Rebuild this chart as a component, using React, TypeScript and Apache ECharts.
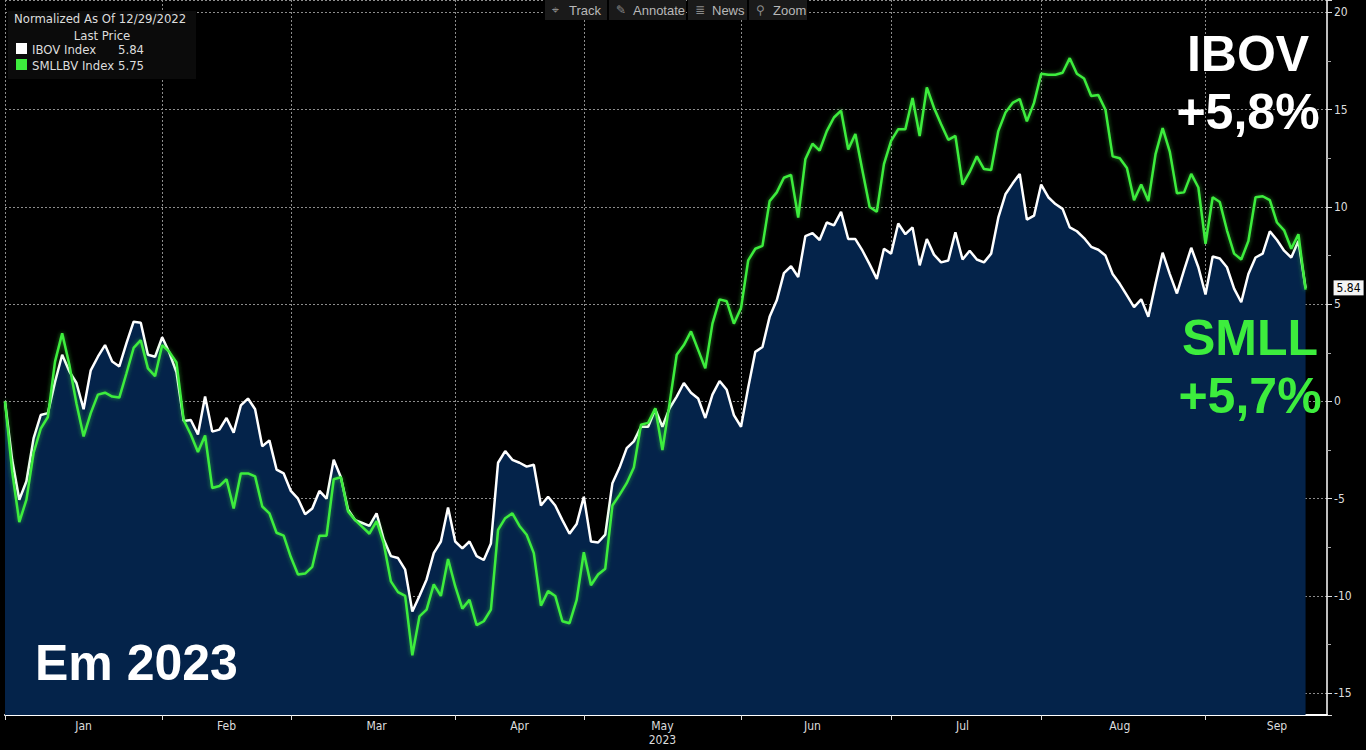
import React, { useEffect, useRef } from "react";
import * as echarts from "echarts";

// Trading days (B3) per month
const dec2022 = [29];
const jan2023 = [2, 3, 4, 5, 6, 9, 10, 11, 12, 13, 16, 17, 18, 19, 20, 23, 24, 25, 26, 27, 30, 31];
const feb2023 = [1, 2, 3, 6, 7, 8, 9, 10, 13, 14, 15, 16, 17, 22, 23, 24, 27, 28];
const mar2023 = [1, 2, 3, 6, 7, 8, 9, 10, 13, 14, 15, 16, 17, 20, 21, 22, 23, 24, 27, 28, 29, 30, 31];
const apr2023 = [3, 4, 5, 6, 10, 11, 12, 13, 14, 17, 18, 19, 20, 24, 25, 26, 27, 28];
const may2023 = [2, 3, 4, 5, 8, 9, 10, 11, 12, 15, 16, 17, 18, 19, 22, 23, 24, 25, 26, 29, 30, 31];
const jun2023 = [1, 2, 5, 6, 7, 9, 12, 13, 14, 15, 16, 19, 20, 21, 22, 23, 26, 27, 28, 29, 30];
const jul2023 = [3, 4, 5, 6, 7, 10, 11, 12, 13, 14, 17, 18, 19, 20, 21, 24, 25, 26, 27, 28, 31];
const aug2023 = [1, 2, 3, 4, 7, 8, 9, 10, 11, 14, 15, 16, 17, 18, 21, 22, 23, 24, 25, 28, 29, 30, 31];
const sep2023 = [1, 4, 5, 6, 8, 11, 12, 13, 14, 15, 18, 19, 20, 21, 22, 25, 26];

// IBOV normalized (% change since 12/29/2022)
const ibov = [
  0, -3.0, -5.05, -4.1, -1.9, -0.7, -0.6, 1.0, 2.4, 1.55,
  0.95, -0.4, 1.6, 2.3, 2.9, 2.05, 1.8, 3.0, 4.1, 4.05,
  2.4, 2.3, 3.3, 2.5, 1.5, -1.0, -0.95, -1.7, 0.25, -1.55,
  -1.45, -0.85, -1.6, -0.2, 0.15, -0.4, -2.3, -2.0, -3.5, -3.7,
  -4.6, -5.0, -5.8, -5.5, -4.6, -5.0, -3.0, -3.9, -5.55, -6.1,
  -6.25, -6.4, -5.75, -7.1, -7.95, -8.05, -8.65, -10.8, -10.0, -9.15,
  -7.8, -7.2, -5.45, -7.2, -7.55, -7.2, -7.95, -8.15, -7.3, -3.15,
  -2.55, -3.0, -3.15, -3.35, -3.25, -5.35, -4.9, -5.35, -6.1, -6.8,
  -6.3, -4.9, -7.2, -7.25, -6.85, -4.2, -3.4, -2.4, -2.05, -1.3,
  -1.3, -0.4, -1.3, -0.35, 0.25, 0.95, 0.45, 0.15, -0.85, 0.35,
  1.05, 0.6, -0.7, -1.3, 0.7, 2.55, 2.8, 4.35, 5.2, 6.6,
  6.95, 6.4, 8.5, 8.65, 8.3, 9.2, 9.05, 9.75, 8.35, 8.35,
  7.75, 7.05, 6.3, 7.85, 7.6, 9.15, 8.6, 8.95, 7.0, 8.35,
  7.55, 7.15, 7.25, 8.7, 7.3, 7.75, 7.3, 7.15, 7.6, 9.45,
  10.65, 11.2, 11.7, 9.35, 9.55, 11.15, 10.5, 10.15, 9.9, 8.95,
  8.75, 8.4, 7.95, 7.8, 7.5, 6.55, 6.05, 5.45, 4.85, 5.25,
  4.35, 6.05, 7.65, 6.55, 5.55, 6.75, 7.9, 6.9, 5.5, 7.45,
  7.35, 6.9, 5.8, 5.1, 6.55, 7.4, 7.6, 8.75, 8.3, 7.75,
  7.4, 8.25, 5.84,
];

// SMLLBV normalized (% change since 12/29/2022)
const smll = [
  0, -3.6, -6.2, -5.05, -2.65, -1.4, -0.8, 2.05, 3.5, 1.9,
  -0.1, -1.8, -0.6, 0.35, 0.45, 0.25, 0.2, 1.45, 2.75, 3.15,
  1.7, 1.3, 2.9, 2.55, 2.0, -0.95, -1.7, -2.6, -1.75, -4.45,
  -4.35, -4.0, -5.5, -3.7, -3.7, -3.85, -5.4, -5.75, -6.75, -6.9,
  -8.0, -8.9, -8.85, -8.5, -6.9, -6.9, -4.0, -3.9, -5.65, -6.1,
  -6.45, -6.8, -6.15, -7.3, -9.25, -9.8, -10.0, -13.05, -11.05, -10.7,
  -9.4, -10.0, -8.1, -9.5, -10.65, -10.2, -11.5, -11.3, -10.7, -6.6,
  -6.0, -5.75, -6.4, -6.85, -7.8, -10.5, -9.75, -10.0, -11.3, -11.4,
  -10.2, -7.75, -9.45, -8.9, -8.6, -5.35, -4.8, -4.2, -3.4, -1.2,
  -1.1, -0.35, -2.5, -0.1, 2.4, 2.9, 3.6, 2.65, 1.7, 4.0,
  5.25, 5.15, 4.0, 4.8, 7.25, 7.85, 8.0, 10.3, 10.75, 11.5,
  11.65, 9.45, 12.45, 13.25, 12.9, 13.9, 14.6, 14.95, 12.95, 13.75,
  11.85, 10.0, 9.75, 12.2, 13.4, 14.0, 14.0, 15.6, 13.65, 16.15,
  15.1, 14.25, 13.45, 13.65, 11.15, 11.8, 12.6, 11.95, 11.9, 13.9,
  14.85, 15.35, 15.55, 14.4, 15.35, 16.85, 16.8, 16.8, 16.9, 17.65,
  16.85, 16.6, 15.7, 15.75, 15.0, 12.6, 12.5, 12.0, 10.35, 11.15,
  10.3, 12.7, 14.05, 12.85, 10.7, 10.75, 11.7, 11.0, 8.1, 10.5,
  10.25, 8.8, 7.6, 7.3, 8.25, 10.5, 10.55, 10.35, 9.2, 8.8,
  7.85, 8.6, 5.75,
];

const monthTickDates = ["2022-12-29", "2023-01-31", "2023-02-28", "2023-03-31", "2023-04-28", "2023-05-31", "2023-06-30", "2023-07-31", "2023-08-31"];
const monthLabelDates = ["2023-01-16", "2023-02-13", "2023-03-16", "2023-04-14", "2023-05-16", "2023-06-15", "2023-07-14", "2023-08-15", "2023-09-15"];
const monthLabelNames = ["Jan", "Feb", "Mar", "Apr", "May\n2023", "Jun", "Jul", "Aug", "Sep"];

const legendTitle = "Normalized As Of 12/29/2022";
const legendSub = "Last Price";
const legendNames = ["IBOV Index", "SMLLBV Index"];
const lastValues = ["5.84", "5.75"];
const toolbarItems = [
  { icon: "⌖", label: "Track" },
  { icon: "✎", label: "Annotate" },
  { icon: "≣", label: "News" },
  { icon: "⚲", label: "Zoom" },
];

const WHITE = "#ffffff";
const GREEN = "#3ded3d";
const NAVY = "#04234a";
const GRID = "#8c8c8c";
const COND = '"DejaVu Sans Condensed", "Liberation Sans Narrow", "DejaVu Sans", sans-serif';
const BIG = '"Liberation Sans", Arial, "DejaVu Sans", sans-serif';

function buildDates(): string[] {
  const out: string[] = [];
  const add = (y: number, m: number, days: number[]) =>
    days.forEach((d) => out.push(`${y}-${String(m).padStart(2, "0")}-${String(d).padStart(2, "0")}`));
  add(2022, 12, dec2022);
  add(2023, 1, jan2023);
  add(2023, 2, feb2023);
  add(2023, 3, mar2023);
  add(2023, 4, apr2023);
  add(2023, 5, may2023);
  add(2023, 6, jun2023);
  add(2023, 7, jul2023);
  add(2023, 8, aug2023);
  add(2023, 9, sep2023);
  return out;
}

export default function App() {
  const ref = useRef<HTMLDivElement>(null);

  useEffect(() => {
    document.body.style.margin = "0";
    document.body.style.background = "#000";
    if (!ref.current) return;
    const chart = echarts.init(ref.current, undefined, { renderer: "svg" });
    const dates = buildDates();
    const tickSet = new Set(monthTickDates.map((d) => dates.indexOf(d)));
    const labelMap = new Map<number, string>();
    monthLabelDates.forEach((d, i) => labelMap.set(dates.indexOf(d), monthLabelNames[i]));

    // toolbar graphics
    const toolbar: any[] = [];
    const boxes = [
      { x: 545, w: 62 },
      { x: 609, w: 77 },
      { x: 688, w: 59 },
      { x: 749, w: 58 },
    ];
    toolbarItems.forEach((t, i) => {
      const b = boxes[i];
      toolbar.push({
        type: "rect",
        shape: { x: b.x, y: 0, width: b.w, height: 20 },
        style: { fill: "#1a1a1a" },
        z: 100,
      });
      toolbar.push({
        type: "text",
        x: b.x + 7,
        y: 10,
        style: { text: t.icon, fill: "#8a8a8a", font: '12px "DejaVu Sans", sans-serif', textVerticalAlign: "middle" },
        z: 101,
      });
      toolbar.push({
        type: "text",
        x: b.x + 24,
        y: 10,
        style: { text: t.label, fill: "#b8b8b8", font: `13px ${BIG}`, textVerticalAlign: "middle" },
        z: 101,
      });
    });

    chart.setOption({
      animation: false,
      backgroundColor: "#000000",
      grid: { left: 5, right: 39, top: 0, bottom: 35 },
      xAxis: {
        type: "category",
        data: dates,
        boundaryGap: false,
        axisLine: { show: true, onZero: false, lineStyle: { color: WHITE, width: 2 } },
        axisTick: {
          show: true,
          interval: (i: number) => tickSet.has(i),
          length: 5,
          lineStyle: { color: "#dddddd", width: 1 },
        },
        axisLabel: {
          interval: (i: number) => labelMap.has(i),
          formatter: (_v: string, i: number) => labelMap.get(i) || "",
          color: "#dddddd",
          fontSize: 12,
          fontFamily: COND,
          lineHeight: 14,
          margin: 4,
        },
        splitLine: {
          show: true,
          interval: (i: number) => tickSet.has(i),
          lineStyle: { color: GRID, width: 1, type: [2, 2] },
        },
      },
      yAxis: {
        type: "value",
        position: "right",
        min: -16.12,
        max: 20.64,
        splitNumber: 7,
        minInterval: 5,
        maxInterval: 5,
        axisLine: { show: true, lineStyle: { color: WHITE, width: 1.5 } },
        axisTick: { show: true, length: 5, lineStyle: { color: "#dddddd" } },
        minorTick: { show: true, splitNumber: 2, length: 4, lineStyle: { color: "#aaaaaa" } },
        axisLabel: {
          color: "#dddddd",
          fontSize: 12,
          fontFamily: COND,
          margin: 7,
          showMinLabel: false,
          showMaxLabel: false,
        },
        splitLine: { show: true, lineStyle: { color: GRID, width: 1, type: [2, 2] } },
      },
      series: [
        {
          name: "IBOV Index",
          type: "line",
          data: ibov,
          symbol: "none",
          z: 3,
          lineStyle: { color: WHITE, width: 2.5 },
          areaStyle: { color: NAVY, opacity: 1, origin: "start" },
          endLabel: {
            show: true,
            formatter: () => lastValues[0],
            distance: 28,
            color: "#000",
            backgroundColor: "#f4f4f4",
            padding: [2, 3, 1, 3],
            fontSize: 12,
            fontFamily: COND,
          },
        },
        {
          name: "SMLLBV Index",
          type: "line",
          data: smll,
          symbol: "none",
          z: 4,
          lineStyle: {
            color: GREEN,
            width: 2.5,
            shadowColor: "rgba(60,240,60,0.55)",
            shadowBlur: 4,
          },
        },
      ],
      graphic: [
        // legend box
        { type: "rect", shape: { x: 8, y: 11, width: 188, height: 68 }, style: { fill: "#0b0b0b" }, z: 100 },
        {
          type: "text", x: 14, y: 18,
          style: { text: legendTitle, fill: "#dddddd", font: `13px ${COND}`, textVerticalAlign: "middle" }, z: 101,
        },
        {
          type: "text", x: 102, y: 35,
          style: { text: legendSub, fill: "#dddddd", font: `13px ${COND}`, textAlign: "center", textVerticalAlign: "middle" }, z: 101,
        },
        { type: "rect", shape: { x: 16, y: 43, width: 11, height: 11 }, style: { fill: WHITE }, z: 101 },
        {
          type: "text", x: 32, y: 49,
          style: { text: legendNames[0], fill: "#dddddd", font: `13px ${COND}`, textVerticalAlign: "middle" }, z: 101,
        },
        {
          type: "text", x: 118, y: 49,
          style: { text: lastValues[0], fill: "#dddddd", font: `13px ${COND}`, textVerticalAlign: "middle" }, z: 101,
        },
        { type: "rect", shape: { x: 16, y: 59, width: 11, height: 11 }, style: { fill: GREEN }, z: 101 },
        {
          type: "text", x: 32, y: 65,
          style: { text: legendNames[1], fill: "#dddddd", font: `13px ${COND}`, textVerticalAlign: "middle" }, z: 101,
        },
        {
          type: "text", x: 118, y: 65,
          style: { text: lastValues[1], fill: "#dddddd", font: `13px ${COND}`, textVerticalAlign: "middle" }, z: 101,
        },
        ...toolbar,
        // big annotations
        {
          type: "text", x: 1248, y: 54,
          style: { text: "IBOV", fill: WHITE, font: `bold 50px ${BIG}`, textAlign: "center", textVerticalAlign: "middle" }, z: 110,
        },
        {
          type: "text", x: 1248, y: 112,
          style: { text: "+5,8%", fill: WHITE, font: `bold 50px ${BIG}`, textAlign: "center", textVerticalAlign: "middle" }, z: 110,
        },
        {
          type: "text", x: 1250, y: 338,
          style: { text: "SMLL", fill: GREEN, font: `bold 50px ${BIG}`, textAlign: "center", textVerticalAlign: "middle" }, z: 110,
        },
        {
          type: "text", x: 1250, y: 396,
          style: { text: "+5,7%", fill: GREEN, font: `bold 50px ${BIG}`, textAlign: "center", textVerticalAlign: "middle" }, z: 110,
        },
        {
          type: "text", x: 35, y: 663,
          style: { text: "Em 2023", fill: WHITE, font: `bold 50px ${BIG}`, textAlign: "left", textVerticalAlign: "middle" }, z: 110,
        },
      ],
    });

    return () => chart.dispose();
  }, []);

  return <div ref={ref} style={{ width: 1366, height: 750, background: "#000" }} />;
}
